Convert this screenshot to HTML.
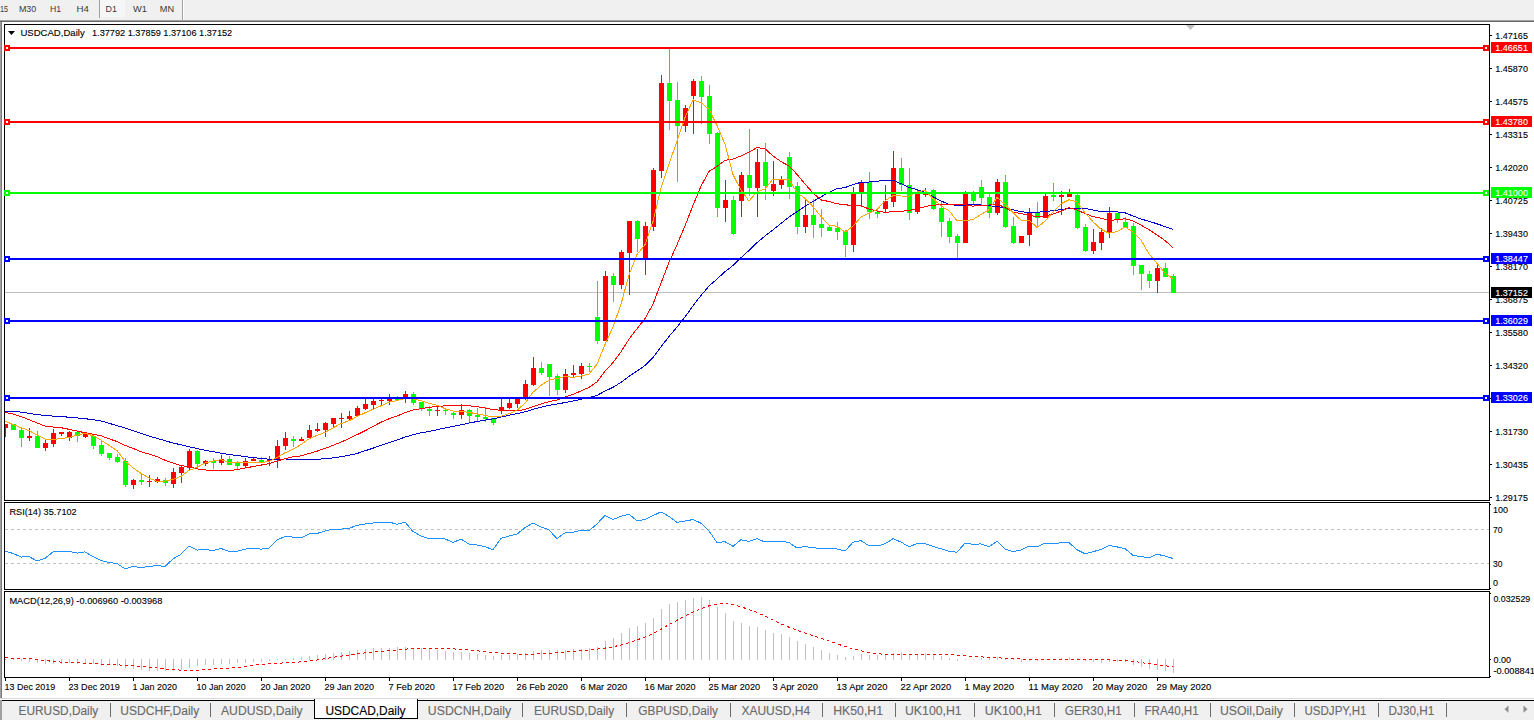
<!DOCTYPE html>
<html><head><meta charset="utf-8"><title>USDCAD,Daily</title>
<style>html,body{margin:0;padding:0;background:#fff;}body{width:1534px;height:720px;overflow:hidden;position:relative;font-family:"Liberation Sans", sans-serif;}</style>
</head><body>
<svg width="1534" height="720" viewBox="0 0 1534 720" style="position:absolute;left:0;top:0" font-family='"Liberation Sans", sans-serif'>
<rect x="0" y="0" width="1534" height="720" fill="#ffffff"/>
<rect x="0" y="0" width="1534" height="20" fill="#f0f0f0"/>
<rect x="0" y="20" width="1534" height="1" fill="#a0a0a0"/>
<rect x="0" y="21" width="1534" height="1" fill="#696969"/>
<rect x="99" y="0" width="1" height="18" fill="#a0a0a0"/>
<rect x="100" y="0" width="25" height="17" fill="#f6f6f6"/>
<rect x="182" y="0" width="1" height="20" fill="#a0a0a0"/>
<rect x="183" y="0" width="1" height="20" fill="#ffffff"/>
<text x="0" y="12" font-size="9.8" fill="#3a3a3a" textLength="8.1" lengthAdjust="spacingAndGlyphs">15</text>
<text x="18.9" y="12" font-size="9.8" fill="#3a3a3a" textLength="17.3" lengthAdjust="spacingAndGlyphs">M30</text>
<text x="49.9" y="12" font-size="9.8" fill="#3a3a3a" textLength="11.1" lengthAdjust="spacingAndGlyphs">H1</text>
<text x="76.6" y="12" font-size="9.8" fill="#3a3a3a" textLength="12.4" lengthAdjust="spacingAndGlyphs">H4</text>
<text x="105.6" y="12" font-size="9.8" fill="#3a3a3a" textLength="11.4" lengthAdjust="spacingAndGlyphs">D1</text>
<text x="133" y="12" font-size="9.8" fill="#3a3a3a" textLength="14" lengthAdjust="spacingAndGlyphs">W1</text>
<text x="159.8" y="12" font-size="9.8" fill="#3a3a3a" textLength="14.3" lengthAdjust="spacingAndGlyphs">MN</text>
<rect x="0" y="22" width="1" height="676" fill="#a0a0a0"/>
<rect x="1" y="22" width="1" height="676" fill="#7a7a7a"/>
<g shape-rendering="crispEdges">
<rect x="4.5" y="24.5" width="1485" height="476" fill="none" stroke="#000" stroke-width="1"/>
<rect x="4.5" y="502.5" width="1485" height="87" fill="none" stroke="#000" stroke-width="1"/>
<rect x="4.5" y="591.5" width="1485" height="86" fill="none" stroke="#000" stroke-width="1"/>
<defs><clipPath id="cm"><rect x="5" y="25" width="1484" height="475"/></clipPath><clipPath id="cr"><rect x="5" y="503" width="1484" height="86"/></clipPath><clipPath id="cd"><rect x="5" y="592" width="1484" height="85"/></clipPath></defs>
<g clip-path="url(#cm)">
<rect x="5" y="292" width="1484" height="1" fill="#c0c0c0"/>
<rect x="5" y="424" width="1" height="13" fill="#ff0000"/>
<rect x="3" y="424" width="5" height="4" fill="#ff0000"/>
<rect x="13" y="424" width="1" height="6" fill="#00ff00"/>
<rect x="11" y="424" width="5" height="6" fill="#00ff00"/>
<rect x="21" y="428" width="1" height="19" fill="#00ff00"/>
<rect x="19" y="430" width="5" height="8" fill="#00ff00"/>
<rect x="29" y="428" width="1" height="13" fill="#ff0000"/>
<rect x="27" y="436" width="5" height="2" fill="#ff0000"/>
<rect x="37" y="431" width="1" height="17" fill="#00ff00"/>
<rect x="35" y="436" width="5" height="12" fill="#00ff00"/>
<rect x="45" y="440" width="1" height="11" fill="#ff0000"/>
<rect x="43" y="443" width="5" height="5" fill="#ff0000"/>
<rect x="53" y="429" width="1" height="18" fill="#ff0000"/>
<rect x="51" y="433" width="5" height="11" fill="#ff0000"/>
<rect x="61" y="432" width="1" height="4" fill="#ff0000"/>
<rect x="59" y="432" width="5" height="2" fill="#ff0000"/>
<rect x="69" y="431" width="1" height="10" fill="#ff0000"/>
<rect x="67" y="432" width="5" height="6" fill="#ff0000"/>
<rect x="77" y="431" width="1" height="11" fill="#00ff00"/>
<rect x="75" y="432" width="5" height="4" fill="#00ff00"/>
<rect x="85" y="432" width="1" height="6" fill="#ff0000"/>
<rect x="83" y="433" width="5" height="4" fill="#ff0000"/>
<rect x="93" y="435" width="1" height="14" fill="#00ff00"/>
<rect x="91" y="436" width="5" height="10" fill="#00ff00"/>
<rect x="101" y="441" width="1" height="15" fill="#00ff00"/>
<rect x="99" y="445" width="5" height="9" fill="#00ff00"/>
<rect x="109" y="453" width="1" height="7" fill="#00ff00"/>
<rect x="107" y="453" width="5" height="5" fill="#00ff00"/>
<rect x="117" y="454" width="1" height="9" fill="#00ff00"/>
<rect x="115" y="457" width="5" height="5" fill="#00ff00"/>
<rect x="125" y="458" width="1" height="29" fill="#00ff00"/>
<rect x="123" y="461" width="5" height="24" fill="#00ff00"/>
<rect x="133" y="479" width="1" height="10" fill="#ff0000"/>
<rect x="131" y="480" width="5" height="5" fill="#ff0000"/>
<rect x="141" y="474" width="1" height="11" fill="#00ff00"/>
<rect x="139" y="480" width="5" height="2" fill="#00ff00"/>
<rect x="149" y="475" width="1" height="12" fill="#ff0000"/>
<rect x="147" y="481" width="5" height="1" fill="#ff0000"/>
<rect x="157" y="477" width="1" height="6" fill="#ff0000"/>
<rect x="155" y="479" width="5" height="3" fill="#ff0000"/>
<rect x="165" y="478" width="1" height="8" fill="#00ff00"/>
<rect x="163" y="480" width="5" height="3" fill="#00ff00"/>
<rect x="173" y="468" width="1" height="20" fill="#ff0000"/>
<rect x="171" y="472" width="5" height="12" fill="#ff0000"/>
<rect x="181" y="465" width="1" height="18" fill="#ff0000"/>
<rect x="179" y="467" width="5" height="6" fill="#ff0000"/>
<rect x="189" y="449" width="1" height="21" fill="#ff0000"/>
<rect x="187" y="451" width="5" height="17" fill="#ff0000"/>
<rect x="197" y="450" width="1" height="17" fill="#00ff00"/>
<rect x="195" y="451" width="5" height="13" fill="#00ff00"/>
<rect x="205" y="460" width="1" height="6" fill="#ff0000"/>
<rect x="203" y="461" width="5" height="3" fill="#ff0000"/>
<rect x="213" y="458" width="1" height="11" fill="#00ff00"/>
<rect x="211" y="461" width="5" height="2" fill="#00ff00"/>
<rect x="221" y="455" width="1" height="10" fill="#ff0000"/>
<rect x="219" y="459" width="5" height="4" fill="#ff0000"/>
<rect x="229" y="456" width="1" height="9" fill="#00ff00"/>
<rect x="227" y="459" width="5" height="6" fill="#00ff00"/>
<rect x="237" y="461" width="1" height="8" fill="#00ff00"/>
<rect x="235" y="463" width="5" height="3" fill="#00ff00"/>
<rect x="245" y="458" width="1" height="10" fill="#ff0000"/>
<rect x="243" y="461" width="5" height="5" fill="#ff0000"/>
<rect x="253" y="458" width="1" height="3" fill="#ff0000"/>
<rect x="251" y="459" width="5" height="2" fill="#ff0000"/>
<rect x="261" y="457" width="1" height="5" fill="#00ff00"/>
<rect x="259" y="460" width="5" height="2" fill="#00ff00"/>
<rect x="269" y="456" width="1" height="10" fill="#ff0000"/>
<rect x="267" y="459" width="5" height="2" fill="#ff0000"/>
<rect x="277" y="440" width="1" height="28" fill="#ff0000"/>
<rect x="275" y="446" width="5" height="14" fill="#ff0000"/>
<rect x="285" y="432" width="1" height="18" fill="#ff0000"/>
<rect x="283" y="438" width="5" height="8" fill="#ff0000"/>
<rect x="293" y="436" width="1" height="11" fill="#00ff00"/>
<rect x="291" y="439" width="5" height="2" fill="#00ff00"/>
<rect x="301" y="437" width="1" height="4" fill="#ff0000"/>
<rect x="299" y="439" width="5" height="2" fill="#ff0000"/>
<rect x="309" y="425" width="1" height="13" fill="#ff0000"/>
<rect x="307" y="430" width="5" height="8" fill="#ff0000"/>
<rect x="317" y="423" width="1" height="9" fill="#ff0000"/>
<rect x="315" y="429" width="5" height="2" fill="#ff0000"/>
<rect x="325" y="422" width="1" height="15" fill="#ff0000"/>
<rect x="323" y="423" width="5" height="7" fill="#ff0000"/>
<rect x="333" y="418" width="1" height="10" fill="#ff0000"/>
<rect x="331" y="418" width="5" height="6" fill="#ff0000"/>
<rect x="341" y="413" width="1" height="15" fill="#ff0000"/>
<rect x="339" y="418" width="5" height="1" fill="#ff0000"/>
<rect x="349" y="411" width="1" height="10" fill="#ff0000"/>
<rect x="347" y="416" width="5" height="3" fill="#ff0000"/>
<rect x="357" y="406" width="1" height="11" fill="#ff0000"/>
<rect x="355" y="408" width="5" height="8" fill="#ff0000"/>
<rect x="365" y="399" width="1" height="11" fill="#ff0000"/>
<rect x="363" y="404" width="5" height="5" fill="#ff0000"/>
<rect x="373" y="399" width="1" height="10" fill="#ff0000"/>
<rect x="371" y="401" width="5" height="4" fill="#ff0000"/>
<rect x="381" y="398" width="1" height="8" fill="#ff0000"/>
<rect x="379" y="400" width="5" height="1" fill="#ff0000"/>
<rect x="389" y="394" width="1" height="11" fill="#ff0000"/>
<rect x="387" y="398" width="5" height="3" fill="#ff0000"/>
<rect x="397" y="396" width="1" height="4" fill="#00ff00"/>
<rect x="395" y="398" width="5" height="2" fill="#00ff00"/>
<rect x="405" y="391" width="1" height="12" fill="#ff0000"/>
<rect x="403" y="394" width="5" height="3" fill="#ff0000"/>
<rect x="413" y="392" width="1" height="13" fill="#00ff00"/>
<rect x="411" y="394" width="5" height="9" fill="#00ff00"/>
<rect x="421" y="402" width="1" height="9" fill="#00ff00"/>
<rect x="419" y="402" width="5" height="6" fill="#00ff00"/>
<rect x="429" y="406" width="1" height="10" fill="#00ff00"/>
<rect x="427" y="409" width="5" height="2" fill="#00ff00"/>
<rect x="437" y="406" width="1" height="10" fill="#ff0000"/>
<rect x="435" y="410" width="5" height="1" fill="#ff0000"/>
<rect x="445" y="409" width="1" height="6" fill="#00ff00"/>
<rect x="443" y="410" width="5" height="1" fill="#00ff00"/>
<rect x="453" y="412" width="1" height="7" fill="#00ff00"/>
<rect x="451" y="413" width="5" height="2" fill="#00ff00"/>
<rect x="461" y="404" width="1" height="15" fill="#ff0000"/>
<rect x="459" y="410" width="5" height="5" fill="#ff0000"/>
<rect x="469" y="409" width="1" height="13" fill="#00ff00"/>
<rect x="467" y="410" width="5" height="6" fill="#00ff00"/>
<rect x="477" y="408" width="1" height="13" fill="#00ff00"/>
<rect x="475" y="415" width="5" height="2" fill="#00ff00"/>
<rect x="485" y="407" width="1" height="15" fill="#00ff00"/>
<rect x="483" y="417" width="5" height="2" fill="#00ff00"/>
<rect x="493" y="418" width="1" height="7" fill="#00ff00"/>
<rect x="491" y="418" width="5" height="5" fill="#00ff00"/>
<rect x="501" y="398" width="1" height="16" fill="#ff0000"/>
<rect x="499" y="407" width="5" height="4" fill="#ff0000"/>
<rect x="509" y="397" width="1" height="12" fill="#ff0000"/>
<rect x="507" y="403" width="5" height="5" fill="#ff0000"/>
<rect x="517" y="398" width="1" height="10" fill="#ff0000"/>
<rect x="515" y="399" width="5" height="5" fill="#ff0000"/>
<rect x="525" y="380" width="1" height="20" fill="#ff0000"/>
<rect x="523" y="384" width="5" height="13" fill="#ff0000"/>
<rect x="533" y="357" width="1" height="29" fill="#ff0000"/>
<rect x="531" y="368" width="5" height="17" fill="#ff0000"/>
<rect x="541" y="362" width="1" height="13" fill="#00ff00"/>
<rect x="539" y="368" width="5" height="5" fill="#00ff00"/>
<rect x="549" y="364" width="1" height="32" fill="#00ff00"/>
<rect x="547" y="364" width="5" height="13" fill="#00ff00"/>
<rect x="557" y="374" width="1" height="21" fill="#00ff00"/>
<rect x="555" y="376" width="5" height="14" fill="#00ff00"/>
<rect x="565" y="369" width="1" height="24" fill="#ff0000"/>
<rect x="563" y="374" width="5" height="16" fill="#ff0000"/>
<rect x="573" y="365" width="1" height="13" fill="#ff0000"/>
<rect x="571" y="373" width="5" height="2" fill="#ff0000"/>
<rect x="581" y="363" width="1" height="16" fill="#ff0000"/>
<rect x="579" y="366" width="5" height="8" fill="#ff0000"/>
<rect x="589" y="363" width="1" height="9" fill="#00ff00"/>
<rect x="587" y="366" width="5" height="1" fill="#00ff00"/>
<rect x="597" y="281" width="1" height="63" fill="#00ff00"/>
<rect x="595" y="317" width="5" height="24" fill="#00ff00"/>
<rect x="605" y="271" width="1" height="70" fill="#ff0000"/>
<rect x="603" y="276" width="5" height="65" fill="#ff0000"/>
<rect x="613" y="273" width="1" height="29" fill="#00ff00"/>
<rect x="611" y="276" width="5" height="9" fill="#00ff00"/>
<rect x="621" y="250" width="1" height="39" fill="#ff0000"/>
<rect x="619" y="252" width="5" height="33" fill="#ff0000"/>
<rect x="629" y="221" width="1" height="74" fill="#ff0000"/>
<rect x="627" y="221" width="5" height="32" fill="#ff0000"/>
<rect x="637" y="220" width="1" height="32" fill="#00ff00"/>
<rect x="635" y="221" width="5" height="18" fill="#00ff00"/>
<rect x="645" y="222" width="1" height="53" fill="#ff0000"/>
<rect x="643" y="226" width="5" height="32" fill="#ff0000"/>
<rect x="653" y="168" width="1" height="63" fill="#ff0000"/>
<rect x="651" y="170" width="5" height="57" fill="#ff0000"/>
<rect x="661" y="75" width="1" height="103" fill="#ff0000"/>
<rect x="659" y="83" width="5" height="88" fill="#ff0000"/>
<rect x="669" y="49" width="1" height="81" fill="#00ff00"/>
<rect x="667" y="83" width="5" height="18" fill="#00ff00"/>
<rect x="677" y="82" width="1" height="100" fill="#00ff00"/>
<rect x="675" y="100" width="5" height="26" fill="#00ff00"/>
<rect x="685" y="105" width="1" height="27" fill="#ff0000"/>
<rect x="683" y="108" width="5" height="18" fill="#ff0000"/>
<rect x="693" y="79" width="1" height="55" fill="#ff0000"/>
<rect x="691" y="81" width="5" height="15" fill="#ff0000"/>
<rect x="701" y="76" width="1" height="48" fill="#00ff00"/>
<rect x="699" y="81" width="5" height="16" fill="#00ff00"/>
<rect x="709" y="85" width="1" height="59" fill="#00ff00"/>
<rect x="707" y="96" width="5" height="38" fill="#00ff00"/>
<rect x="717" y="132" width="1" height="85" fill="#00ff00"/>
<rect x="715" y="133" width="5" height="75" fill="#00ff00"/>
<rect x="725" y="180" width="1" height="42" fill="#ff0000"/>
<rect x="723" y="200" width="5" height="8" fill="#ff0000"/>
<rect x="733" y="196" width="1" height="39" fill="#00ff00"/>
<rect x="731" y="200" width="5" height="34" fill="#00ff00"/>
<rect x="741" y="172" width="1" height="45" fill="#ff0000"/>
<rect x="739" y="175" width="5" height="26" fill="#ff0000"/>
<rect x="749" y="129" width="1" height="67" fill="#00ff00"/>
<rect x="747" y="175" width="5" height="13" fill="#00ff00"/>
<rect x="757" y="149" width="1" height="68" fill="#ff0000"/>
<rect x="755" y="162" width="5" height="26" fill="#ff0000"/>
<rect x="765" y="143" width="1" height="57" fill="#00ff00"/>
<rect x="763" y="162" width="5" height="24" fill="#00ff00"/>
<rect x="773" y="161" width="1" height="35" fill="#ff0000"/>
<rect x="771" y="184" width="5" height="7" fill="#ff0000"/>
<rect x="781" y="176" width="1" height="13" fill="#ff0000"/>
<rect x="779" y="179" width="5" height="6" fill="#ff0000"/>
<rect x="789" y="152" width="1" height="47" fill="#00ff00"/>
<rect x="787" y="157" width="5" height="30" fill="#00ff00"/>
<rect x="797" y="182" width="1" height="52" fill="#00ff00"/>
<rect x="795" y="186" width="5" height="41" fill="#00ff00"/>
<rect x="805" y="199" width="1" height="34" fill="#ff0000"/>
<rect x="803" y="215" width="5" height="12" fill="#ff0000"/>
<rect x="813" y="199" width="1" height="39" fill="#00ff00"/>
<rect x="811" y="215" width="5" height="10" fill="#00ff00"/>
<rect x="821" y="209" width="1" height="28" fill="#00ff00"/>
<rect x="819" y="224" width="5" height="4" fill="#00ff00"/>
<rect x="829" y="226" width="1" height="5" fill="#00ff00"/>
<rect x="827" y="227" width="5" height="4" fill="#00ff00"/>
<rect x="837" y="222" width="1" height="18" fill="#00ff00"/>
<rect x="835" y="228" width="5" height="4" fill="#00ff00"/>
<rect x="845" y="230" width="1" height="27" fill="#00ff00"/>
<rect x="843" y="231" width="5" height="14" fill="#00ff00"/>
<rect x="853" y="187" width="1" height="65" fill="#ff0000"/>
<rect x="851" y="194" width="5" height="51" fill="#ff0000"/>
<rect x="861" y="180" width="1" height="27" fill="#ff0000"/>
<rect x="859" y="183" width="5" height="9" fill="#ff0000"/>
<rect x="869" y="172" width="1" height="47" fill="#00ff00"/>
<rect x="867" y="182" width="5" height="30" fill="#00ff00"/>
<rect x="877" y="210" width="1" height="8" fill="#00ff00"/>
<rect x="875" y="212" width="5" height="2" fill="#00ff00"/>
<rect x="885" y="185" width="1" height="28" fill="#ff0000"/>
<rect x="883" y="201" width="5" height="8" fill="#ff0000"/>
<rect x="893" y="151" width="1" height="56" fill="#ff0000"/>
<rect x="891" y="168" width="5" height="34" fill="#ff0000"/>
<rect x="901" y="158" width="1" height="33" fill="#00ff00"/>
<rect x="899" y="168" width="5" height="17" fill="#00ff00"/>
<rect x="909" y="168" width="1" height="52" fill="#00ff00"/>
<rect x="907" y="185" width="5" height="28" fill="#00ff00"/>
<rect x="917" y="189" width="1" height="25" fill="#ff0000"/>
<rect x="915" y="193" width="5" height="19" fill="#ff0000"/>
<rect x="925" y="188" width="1" height="9" fill="#ff0000"/>
<rect x="923" y="193" width="5" height="2" fill="#ff0000"/>
<rect x="933" y="189" width="1" height="21" fill="#00ff00"/>
<rect x="931" y="190" width="5" height="19" fill="#00ff00"/>
<rect x="941" y="201" width="1" height="36" fill="#00ff00"/>
<rect x="939" y="208" width="5" height="14" fill="#00ff00"/>
<rect x="949" y="218" width="1" height="25" fill="#00ff00"/>
<rect x="947" y="221" width="5" height="16" fill="#00ff00"/>
<rect x="957" y="234" width="1" height="24" fill="#00ff00"/>
<rect x="955" y="236" width="5" height="7" fill="#00ff00"/>
<rect x="965" y="191" width="1" height="52" fill="#ff0000"/>
<rect x="963" y="194" width="5" height="49" fill="#ff0000"/>
<rect x="973" y="191" width="1" height="13" fill="#00ff00"/>
<rect x="971" y="193" width="5" height="8" fill="#00ff00"/>
<rect x="981" y="180" width="1" height="26" fill="#00ff00"/>
<rect x="979" y="187" width="5" height="11" fill="#00ff00"/>
<rect x="989" y="194" width="1" height="24" fill="#00ff00"/>
<rect x="987" y="197" width="5" height="16" fill="#00ff00"/>
<rect x="997" y="179" width="1" height="36" fill="#ff0000"/>
<rect x="995" y="182" width="5" height="31" fill="#ff0000"/>
<rect x="1005" y="175" width="1" height="53" fill="#00ff00"/>
<rect x="1003" y="182" width="5" height="45" fill="#00ff00"/>
<rect x="1013" y="217" width="1" height="27" fill="#00ff00"/>
<rect x="1011" y="226" width="5" height="17" fill="#00ff00"/>
<rect x="1021" y="236" width="1" height="7" fill="#ff0000"/>
<rect x="1019" y="236" width="5" height="7" fill="#ff0000"/>
<rect x="1029" y="208" width="1" height="38" fill="#ff0000"/>
<rect x="1027" y="213" width="5" height="22" fill="#ff0000"/>
<rect x="1037" y="202" width="1" height="25" fill="#00ff00"/>
<rect x="1035" y="213" width="5" height="5" fill="#00ff00"/>
<rect x="1045" y="194" width="1" height="24" fill="#ff0000"/>
<rect x="1043" y="196" width="5" height="22" fill="#ff0000"/>
<rect x="1053" y="183" width="1" height="18" fill="#00ff00"/>
<rect x="1051" y="195" width="5" height="2" fill="#00ff00"/>
<rect x="1061" y="191" width="1" height="24" fill="#ff0000"/>
<rect x="1059" y="195" width="5" height="2" fill="#ff0000"/>
<rect x="1069" y="189" width="1" height="8" fill="#ff0000"/>
<rect x="1067" y="193" width="5" height="4" fill="#ff0000"/>
<rect x="1077" y="193" width="1" height="36" fill="#00ff00"/>
<rect x="1075" y="195" width="5" height="33" fill="#00ff00"/>
<rect x="1085" y="224" width="1" height="28" fill="#00ff00"/>
<rect x="1083" y="227" width="5" height="24" fill="#00ff00"/>
<rect x="1093" y="229" width="1" height="25" fill="#ff0000"/>
<rect x="1091" y="242" width="5" height="9" fill="#ff0000"/>
<rect x="1101" y="228" width="1" height="22" fill="#ff0000"/>
<rect x="1099" y="232" width="5" height="11" fill="#ff0000"/>
<rect x="1109" y="207" width="1" height="31" fill="#ff0000"/>
<rect x="1107" y="213" width="5" height="20" fill="#ff0000"/>
<rect x="1117" y="213" width="1" height="10" fill="#00ff00"/>
<rect x="1115" y="213" width="5" height="7" fill="#00ff00"/>
<rect x="1125" y="217" width="1" height="11" fill="#00ff00"/>
<rect x="1123" y="222" width="5" height="6" fill="#00ff00"/>
<rect x="1133" y="223" width="1" height="52" fill="#00ff00"/>
<rect x="1131" y="226" width="5" height="40" fill="#00ff00"/>
<rect x="1141" y="265" width="1" height="25" fill="#00ff00"/>
<rect x="1139" y="265" width="5" height="9" fill="#00ff00"/>
<rect x="1149" y="271" width="1" height="17" fill="#00ff00"/>
<rect x="1147" y="274" width="5" height="7" fill="#00ff00"/>
<rect x="1157" y="263" width="1" height="30" fill="#ff0000"/>
<rect x="1155" y="268" width="5" height="13" fill="#ff0000"/>
<rect x="1165" y="263" width="1" height="14" fill="#00ff00"/>
<rect x="1163" y="268" width="5" height="9" fill="#00ff00"/>
<rect x="1173" y="274" width="1" height="19" fill="#00ff00"/>
<rect x="1171" y="276" width="5" height="17" fill="#00ff00"/>
<polyline points="5,411.4 13,411.4 21,412.1 29,413.3 37,414.6 45,415.5 53,416.1 61,416.6 69,417.2 77,417.9 85,418.7 93,419.7 101,420.9 109,423.3 117,425.6 125,428.0 133,430.7 141,433.3 149,436.0 157,438.4 165,440.7 173,443.0 181,444.8 189,446.7 197,448.5 205,450.2 213,451.7 221,453.2 229,454.6 237,455.4 245,456.7 253,457.6 261,458.4 269,459.2 277,459.1 285,459.0 293,459.2 301,459.5 309,459.4 317,459.2 325,458.8 333,457.9 341,456.7 349,455.3 357,453.5 365,450.8 373,448.2 381,445.4 389,442.7 397,440.0 405,437.1 413,434.8 421,432.8 429,431.5 437,429.7 445,428.0 453,426.4 461,424.8 469,423.1 477,421.5 485,420.1 493,418.9 501,417.1 509,415.2 517,413.6 525,411.8 533,409.4 541,407.2 549,405.4 557,404.1 565,402.5 573,401.0 581,399.3 589,397.6 597,395.4 605,391.1 613,387.3 621,382.3 629,376.4 637,371.1 645,365.5 653,357.7 661,346.9 669,336.5 677,327.1 685,317.0 693,305.8 701,295.4 709,286.0 717,279.0 725,271.7 733,265.4 741,257.7 749,250.5 757,242.6 765,236.0 773,229.9 781,223.4 789,217.1 797,211.7 805,206.4 813,201.4 821,196.8 829,192.3 837,188.7 845,187.6 853,184.6 861,182.3 869,182.0 877,181.2 885,180.3 893,180.3 901,183.7 909,187.4 917,189.6 925,192.5 933,196.7 941,200.9 949,204.3 957,205.5 965,205.3 973,204.2 981,205.0 989,205.8 997,206.5 1005,207.8 1013,209.8 1021,211.7 1029,212.6 1037,212.3 1045,211.6 1053,210.7 1061,209.6 1069,208.3 1077,208.2 1085,208.4 1093,210.0 1101,211.6 1109,211.7 1117,211.9 1125,212.8 1133,216.0 1141,219.0 1149,221.3 1157,223.8 1165,226.6 1173,229.4" fill="none" stroke="#0000cd" stroke-width="1"/>
<polyline points="5,412.2 13,414.1 21,416.5 29,419.7 37,422.9 45,426.1 53,427.0 61,427.7 69,429.3 77,431.1 85,432.7 93,434.2 101,435.7 109,438.8 117,441.5 125,445.4 133,448.4 141,451.7 149,454.1 157,456.6 165,460.2 173,463.1 181,465.6 189,466.6 197,468.9 205,469.9 213,470.6 221,470.6 229,470.9 237,469.5 245,468.1 253,466.5 261,465.1 269,463.7 277,461.1 285,458.6 293,456.8 301,455.9 309,453.5 317,451.2 325,448.4 333,445.4 341,442.1 349,438.5 357,434.7 365,430.8 373,426.4 381,422.2 389,418.8 397,416.1 405,412.7 413,410.1 421,408.6 429,407.3 437,406.4 445,405.9 453,405.6 461,405.2 469,405.8 477,406.7 485,408.0 493,409.6 501,410.3 509,410.5 517,410.9 525,409.5 533,406.6 541,403.9 549,401.6 557,400.1 565,397.1 573,394.5 581,390.9 589,387.4 597,381.8 605,371.3 613,362.6 621,351.8 629,339.1 637,328.7 645,318.6 653,304.1 661,283.1 669,262.4 677,244.7 685,225.8 693,205.4 701,186.1 709,171.4 717,166.5 725,160.4 733,159.1 741,155.9 749,152.2 757,147.6 765,148.8 773,156.0 781,161.6 789,165.9 797,174.4 805,184.0 813,193.1 821,199.9 829,201.5 837,203.8 845,204.6 853,205.9 861,205.6 869,209.1 877,211.1 885,212.4 893,211.6 901,211.4 909,210.4 917,208.9 925,206.6 933,205.2 941,204.6 949,204.9 957,204.8 965,204.8 973,206.1 981,205.1 989,205.0 997,203.6 1005,207.9 1013,212.0 1021,213.6 1029,215.1 1037,216.9 1045,215.9 1053,214.1 1061,211.1 1069,207.6 1077,210.0 1085,213.6 1093,216.7 1101,218.1 1109,220.3 1117,219.8 1125,218.7 1133,220.9 1141,225.2 1149,229.7 1157,234.9 1165,240.6 1173,247.6" fill="none" stroke="#ff0000" stroke-width="1"/>
<polyline points="5,421.0 13,424.6 21,427.6 29,430.6 37,435.2 45,439.0 53,439.6 61,438.4 69,437.6 77,435.2 85,433.2 93,435.8 101,440.2 109,445.4 117,450.6 125,461.0 133,467.8 141,473.4 149,478.0 157,481.4 165,481.0 173,479.4 181,476.4 189,470.4 197,467.4 205,463.0 213,461.2 221,459.6 229,462.4 237,462.8 245,462.8 253,462.0 261,462.6 269,461.4 277,457.4 285,452.8 293,449.2 301,444.6 309,438.8 317,435.4 325,432.4 333,427.8 341,423.6 349,420.8 357,416.6 365,412.8 373,409.4 381,405.8 389,402.2 397,400.6 405,398.6 413,399.0 421,400.6 429,403.2 437,405.2 445,408.6 453,411.0 461,411.4 469,412.4 477,413.8 485,415.4 493,417.0 501,416.4 509,413.8 517,410.2 525,403.2 533,392.2 541,385.4 549,380.2 557,378.4 565,376.4 573,377.4 581,376.0 589,374.0 597,364.2 605,344.6 613,327.0 621,304.2 629,275.0 637,254.6 645,244.6 653,221.6 661,187.8 669,163.8 677,141.2 685,117.6 693,99.8 701,102.6 709,109.2 717,125.6 725,144.0 733,174.6 741,190.2 749,201.0 757,191.8 765,189.0 773,179.0 781,179.8 789,179.6 797,192.6 805,198.4 813,206.6 821,216.4 829,225.2 837,226.2 845,232.2 853,226.0 861,217.0 869,213.2 877,209.6 885,200.8 893,195.6 901,196.0 909,196.2 917,192.0 925,190.4 933,198.6 941,206.0 949,210.8 957,220.8 965,221.0 973,219.4 981,214.6 989,209.8 997,197.6 1005,204.2 1013,212.6 1021,220.2 1029,220.2 1037,227.4 1045,221.2 1053,212.0 1061,203.8 1069,199.8 1077,201.8 1085,212.8 1093,221.8 1101,229.2 1109,233.2 1117,231.6 1125,227.0 1133,231.8 1141,240.2 1149,253.8 1157,263.4 1165,273.2 1173,278.6" fill="none" stroke="#ffa500" stroke-width="1"/>
<rect x="5" y="47" width="1484" height="2" fill="#ff0000"/>
<rect x="5" y="121" width="1484" height="2" fill="#ff0000"/>
<rect x="5" y="192" width="1484" height="2" fill="#00ff00"/>
<rect x="5" y="258" width="1484" height="2" fill="#0000ff"/>
<rect x="5" y="320" width="1484" height="2" fill="#0000ff"/>
<rect x="5" y="397" width="1484" height="2" fill="#0000ff"/>
</g>
<rect x="4" y="45" width="6" height="6" fill="#ff0000"/>
<rect x="6" y="47" width="2" height="2" fill="#ffffff"/>
<rect x="1483" y="45" width="6" height="6" fill="#ff0000"/>
<rect x="1485" y="47" width="2" height="2" fill="#ffffff"/>
<rect x="4" y="119" width="6" height="6" fill="#ff0000"/>
<rect x="6" y="121" width="2" height="2" fill="#ffffff"/>
<rect x="1483" y="119" width="6" height="6" fill="#ff0000"/>
<rect x="1485" y="121" width="2" height="2" fill="#ffffff"/>
<rect x="4" y="190" width="6" height="6" fill="#00ff00"/>
<rect x="6" y="192" width="2" height="2" fill="#ffffff"/>
<rect x="1483" y="190" width="6" height="6" fill="#00ff00"/>
<rect x="1485" y="192" width="2" height="2" fill="#ffffff"/>
<rect x="4" y="256" width="6" height="6" fill="#0000ff"/>
<rect x="6" y="258" width="2" height="2" fill="#ffffff"/>
<rect x="1483" y="256" width="6" height="6" fill="#0000ff"/>
<rect x="1485" y="258" width="2" height="2" fill="#ffffff"/>
<rect x="4" y="318" width="6" height="6" fill="#0000ff"/>
<rect x="6" y="320" width="2" height="2" fill="#ffffff"/>
<rect x="1483" y="318" width="6" height="6" fill="#0000ff"/>
<rect x="1485" y="320" width="2" height="2" fill="#ffffff"/>
<rect x="4" y="395" width="6" height="6" fill="#0000ff"/>
<rect x="6" y="397" width="2" height="2" fill="#ffffff"/>
<rect x="1483" y="395" width="6" height="6" fill="#0000ff"/>
<rect x="1485" y="397" width="2" height="2" fill="#ffffff"/>
</g>
<path d="M8,31 L15,31 L11.5,35 Z" fill="#000"/>
<text x="20.4" y="36" font-size="9.6" fill="#000" textLength="64.3" lengthAdjust="spacingAndGlyphs" stroke="#000" stroke-width="0.12">USDCAD,Daily</text>
<text x="92" y="36" font-size="9.6" fill="#000" textLength="140.2" lengthAdjust="spacingAndGlyphs" stroke="#000" stroke-width="0.12">1.37792 1.37859 1.37106 1.37152</text>
<path d="M1186,25 L1195,25 L1190.5,30 Z" fill="#c0c0c0"/>
<g shape-rendering="crispEdges">
<rect x="1490" y="35" width="2" height="1" fill="#000"/>
<rect x="1490" y="68" width="2" height="1" fill="#000"/>
<rect x="1490" y="101" width="2" height="1" fill="#000"/>
<rect x="1490" y="134" width="2" height="1" fill="#000"/>
<rect x="1490" y="167" width="2" height="1" fill="#000"/>
<rect x="1490" y="200" width="2" height="1" fill="#000"/>
<rect x="1490" y="233" width="2" height="1" fill="#000"/>
<rect x="1490" y="266" width="2" height="1" fill="#000"/>
<rect x="1490" y="299" width="2" height="1" fill="#000"/>
<rect x="1490" y="332" width="2" height="1" fill="#000"/>
<rect x="1490" y="365" width="2" height="1" fill="#000"/>
<rect x="1490" y="398" width="2" height="1" fill="#000"/>
<rect x="1490" y="431" width="2" height="1" fill="#000"/>
<rect x="1490" y="464" width="2" height="1" fill="#000"/>
<rect x="1490" y="497" width="2" height="1" fill="#000"/>
</g>
<text x="1495.3" y="38.8" font-size="9.5" fill="#000" textLength="32.6" lengthAdjust="spacingAndGlyphs" stroke="#000" stroke-width="0.12">1.47165</text>
<text x="1495.3" y="71.8" font-size="9.5" fill="#000" textLength="32.6" lengthAdjust="spacingAndGlyphs" stroke="#000" stroke-width="0.12">1.45870</text>
<text x="1495.3" y="104.8" font-size="9.5" fill="#000" textLength="32.6" lengthAdjust="spacingAndGlyphs" stroke="#000" stroke-width="0.12">1.44575</text>
<text x="1495.3" y="137.8" font-size="9.5" fill="#000" textLength="32.6" lengthAdjust="spacingAndGlyphs" stroke="#000" stroke-width="0.12">1.43315</text>
<text x="1495.3" y="170.8" font-size="9.5" fill="#000" textLength="32.6" lengthAdjust="spacingAndGlyphs" stroke="#000" stroke-width="0.12">1.42020</text>
<text x="1495.3" y="203.8" font-size="9.5" fill="#000" textLength="32.6" lengthAdjust="spacingAndGlyphs" stroke="#000" stroke-width="0.12">1.40725</text>
<text x="1495.3" y="236.8" font-size="9.5" fill="#000" textLength="32.6" lengthAdjust="spacingAndGlyphs" stroke="#000" stroke-width="0.12">1.39430</text>
<text x="1495.3" y="269.8" font-size="9.5" fill="#000" textLength="32.6" lengthAdjust="spacingAndGlyphs" stroke="#000" stroke-width="0.12">1.38170</text>
<text x="1495.3" y="302.8" font-size="9.5" fill="#000" textLength="32.6" lengthAdjust="spacingAndGlyphs" stroke="#000" stroke-width="0.12">1.36875</text>
<text x="1495.3" y="335.8" font-size="9.5" fill="#000" textLength="32.6" lengthAdjust="spacingAndGlyphs" stroke="#000" stroke-width="0.12">1.35580</text>
<text x="1495.3" y="368.8" font-size="9.5" fill="#000" textLength="32.6" lengthAdjust="spacingAndGlyphs" stroke="#000" stroke-width="0.12">1.34320</text>
<text x="1495.3" y="401.8" font-size="9.5" fill="#000" textLength="32.6" lengthAdjust="spacingAndGlyphs" stroke="#000" stroke-width="0.12">1.33025</text>
<text x="1495.3" y="434.8" font-size="9.5" fill="#000" textLength="32.6" lengthAdjust="spacingAndGlyphs" stroke="#000" stroke-width="0.12">1.31730</text>
<text x="1495.3" y="467.8" font-size="9.5" fill="#000" textLength="32.6" lengthAdjust="spacingAndGlyphs" stroke="#000" stroke-width="0.12">1.30435</text>
<text x="1495.3" y="500.8" font-size="9.5" fill="#000" textLength="32.6" lengthAdjust="spacingAndGlyphs" stroke="#000" stroke-width="0.12">1.29175</text>
<rect x="1491" y="42" width="41" height="11" fill="#ff0000" shape-rendering="crispEdges"/>
<text x="1495.3" y="51" font-size="9.5" fill="#fff" textLength="32.6" lengthAdjust="spacingAndGlyphs" stroke="#fff" stroke-width="0.12">1.46651</text>
<rect x="1491" y="116" width="41" height="11" fill="#ff0000" shape-rendering="crispEdges"/>
<text x="1495.3" y="125" font-size="9.5" fill="#fff" textLength="32.6" lengthAdjust="spacingAndGlyphs" stroke="#fff" stroke-width="0.12">1.43780</text>
<rect x="1491" y="187" width="41" height="11" fill="#00ff00" shape-rendering="crispEdges"/>
<text x="1495.3" y="196" font-size="9.5" fill="#fff" textLength="32.6" lengthAdjust="spacingAndGlyphs" stroke="#fff" stroke-width="0.12">1.41000</text>
<rect x="1491" y="253" width="41" height="11" fill="#0000ff" shape-rendering="crispEdges"/>
<text x="1495.3" y="262" font-size="9.5" fill="#fff" textLength="32.6" lengthAdjust="spacingAndGlyphs" stroke="#fff" stroke-width="0.12">1.38447</text>
<rect x="1491" y="287" width="41" height="11" fill="#000000" shape-rendering="crispEdges"/>
<text x="1495.3" y="296" font-size="9.5" fill="#fff" textLength="32.6" lengthAdjust="spacingAndGlyphs" stroke="#fff" stroke-width="0.12">1.37152</text>
<rect x="1491" y="315" width="41" height="11" fill="#0000ff" shape-rendering="crispEdges"/>
<text x="1495.3" y="324" font-size="9.5" fill="#fff" textLength="32.6" lengthAdjust="spacingAndGlyphs" stroke="#fff" stroke-width="0.12">1.36029</text>
<rect x="1491" y="392" width="41" height="11" fill="#0000ff" shape-rendering="crispEdges"/>
<text x="1495.3" y="401" font-size="9.5" fill="#fff" textLength="32.6" lengthAdjust="spacingAndGlyphs" stroke="#fff" stroke-width="0.12">1.33026</text>
<g shape-rendering="crispEdges">
<line x1="5" y1="529.5" x2="1489" y2="529.5" stroke="#c0c0c0" stroke-width="1" stroke-dasharray="3,3"/>
<line x1="5" y1="563.5" x2="1489" y2="563.5" stroke="#c0c0c0" stroke-width="1" stroke-dasharray="3,3"/>
<rect x="1490" y="504" width="1" height="1" fill="#000"/>
<rect x="1490" y="588" width="1" height="1" fill="#000"/>
</g>
<polyline points="5,551.3 13,553.4 21,557.1 29,556.6 37,560.9 45,558.3 53,551.9 61,551.3 69,551.3 77,553.1 85,551.9 93,556.7 101,560.4 109,562.4 117,563.5 125,568.9 133,566.5 141,567.5 149,566.5 157,565.6 165,566.5 173,558.9 181,554.3 189,545.9 197,550.1 205,549.4 213,550.5 221,548.5 229,551.3 237,551.3 245,549.2 253,548.1 261,549.1 269,548.2 277,540.0 285,536.5 293,537.1 301,538.0 309,534.0 317,533.5 325,531.0 333,529.1 341,529.1 349,528.3 357,525.3 365,524.0 373,523.0 381,522.7 389,522.0 397,524.3 405,522.1 413,531.5 421,536.0 429,538.6 437,538.0 445,538.9 453,542.5 461,539.0 469,544.1 477,545.0 485,546.6 493,549.8 501,538.3 509,536.1 517,534.1 525,527.7 533,522.9 541,526.9 549,529.9 557,538.7 565,532.8 573,532.4 581,530.2 589,530.9 597,523.9 605,515.3 613,519.5 621,516.3 629,514.1 637,520.8 645,519.6 653,515.6 661,511.9 669,516.4 677,522.3 685,521.1 693,519.5 701,523.2 709,530.9 717,542.6 725,541.7 733,546.3 741,539.7 749,541.4 757,538.7 765,542.0 773,541.8 781,541.2 789,542.4 797,548.1 805,546.4 813,547.8 821,548.3 829,548.7 837,548.9 845,551.1 853,542.2 861,540.6 869,545.7 877,546.0 885,543.8 893,538.7 901,542.0 909,546.8 917,543.6 925,543.6 933,546.5 941,548.8 949,551.3 957,552.3 965,543.1 973,544.4 981,543.9 989,546.8 997,541.3 1005,549.2 1013,551.5 1021,550.2 1029,546.1 1037,547.0 1045,543.1 1053,543.3 1061,542.9 1069,542.6 1077,549.8 1085,553.7 1093,551.7 1101,549.5 1109,545.5 1117,546.9 1125,548.6 1133,555.4 1141,556.6 1149,557.7 1157,554.3 1165,555.9 1173,558.5" fill="none" stroke="#1e90ff" stroke-width="1" shape-rendering="crispEdges"/>
<text x="9.4" y="515" font-size="9.6" fill="#000" textLength="67.3" lengthAdjust="spacingAndGlyphs" stroke="#000" stroke-width="0.12">RSI(14) 35.7102</text>
<text x="1493" y="513.2" font-size="9.5" fill="#000" textLength="15" lengthAdjust="spacingAndGlyphs" stroke="#000" stroke-width="0.12">100</text>
<text x="1493" y="533.2" font-size="9.5" fill="#000" textLength="9.5" lengthAdjust="spacingAndGlyphs" stroke="#000" stroke-width="0.12">70</text>
<text x="1493" y="566.8" font-size="9.5" fill="#000" textLength="9.5" lengthAdjust="spacingAndGlyphs" stroke="#000" stroke-width="0.12">30</text>
<text x="1493" y="586.0" font-size="9.5" fill="#000" textLength="5" lengthAdjust="spacingAndGlyphs" stroke="#000" stroke-width="0.12">0</text>
<g shape-rendering="crispEdges">
<rect x="5" y="659" width="1" height="1" fill="#c0c0c0"/>
<rect x="13" y="659" width="1" height="1" fill="#c0c0c0"/>
<rect x="21" y="659" width="1" height="2" fill="#c0c0c0"/>
<rect x="29" y="659" width="1" height="3" fill="#c0c0c0"/>
<rect x="37" y="659" width="1" height="4" fill="#c0c0c0"/>
<rect x="45" y="659" width="1" height="5" fill="#c0c0c0"/>
<rect x="53" y="659" width="1" height="5" fill="#c0c0c0"/>
<rect x="61" y="659" width="1" height="5" fill="#c0c0c0"/>
<rect x="69" y="659" width="1" height="4" fill="#c0c0c0"/>
<rect x="77" y="659" width="1" height="5" fill="#c0c0c0"/>
<rect x="85" y="659" width="1" height="5" fill="#c0c0c0"/>
<rect x="93" y="659" width="1" height="5" fill="#c0c0c0"/>
<rect x="101" y="659" width="1" height="6" fill="#c0c0c0"/>
<rect x="109" y="659" width="1" height="6" fill="#c0c0c0"/>
<rect x="117" y="659" width="1" height="7" fill="#c0c0c0"/>
<rect x="125" y="659" width="1" height="9" fill="#c0c0c0"/>
<rect x="133" y="659" width="1" height="10" fill="#c0c0c0"/>
<rect x="141" y="659" width="1" height="11" fill="#c0c0c0"/>
<rect x="149" y="659" width="1" height="12" fill="#c0c0c0"/>
<rect x="157" y="659" width="1" height="12" fill="#c0c0c0"/>
<rect x="165" y="659" width="1" height="12" fill="#c0c0c0"/>
<rect x="173" y="659" width="1" height="12" fill="#c0c0c0"/>
<rect x="181" y="659" width="1" height="11" fill="#c0c0c0"/>
<rect x="189" y="659" width="1" height="9" fill="#c0c0c0"/>
<rect x="197" y="659" width="1" height="7" fill="#c0c0c0"/>
<rect x="205" y="659" width="1" height="6" fill="#c0c0c0"/>
<rect x="213" y="659" width="1" height="6" fill="#c0c0c0"/>
<rect x="221" y="659" width="1" height="5" fill="#c0c0c0"/>
<rect x="229" y="659" width="1" height="5" fill="#c0c0c0"/>
<rect x="237" y="659" width="1" height="4" fill="#c0c0c0"/>
<rect x="245" y="659" width="1" height="4" fill="#c0c0c0"/>
<rect x="253" y="659" width="1" height="3" fill="#c0c0c0"/>
<rect x="261" y="659" width="1" height="3" fill="#c0c0c0"/>
<rect x="269" y="659" width="1" height="2" fill="#c0c0c0"/>
<rect x="277" y="659" width="1" height="1" fill="#c0c0c0"/>
<rect x="285" y="659" width="1" height="1" fill="#c0c0c0"/>
<rect x="293" y="658" width="1" height="2" fill="#c0c0c0"/>
<rect x="301" y="657" width="1" height="3" fill="#c0c0c0"/>
<rect x="309" y="656" width="1" height="4" fill="#c0c0c0"/>
<rect x="317" y="655" width="1" height="5" fill="#c0c0c0"/>
<rect x="325" y="654" width="1" height="6" fill="#c0c0c0"/>
<rect x="333" y="653" width="1" height="7" fill="#c0c0c0"/>
<rect x="341" y="652" width="1" height="8" fill="#c0c0c0"/>
<rect x="349" y="651" width="1" height="9" fill="#c0c0c0"/>
<rect x="357" y="650" width="1" height="10" fill="#c0c0c0"/>
<rect x="365" y="649" width="1" height="11" fill="#c0c0c0"/>
<rect x="373" y="648" width="1" height="12" fill="#c0c0c0"/>
<rect x="381" y="648" width="1" height="12" fill="#c0c0c0"/>
<rect x="389" y="648" width="1" height="12" fill="#c0c0c0"/>
<rect x="397" y="647" width="1" height="13" fill="#c0c0c0"/>
<rect x="405" y="647" width="1" height="13" fill="#c0c0c0"/>
<rect x="413" y="648" width="1" height="12" fill="#c0c0c0"/>
<rect x="421" y="648" width="1" height="12" fill="#c0c0c0"/>
<rect x="429" y="649" width="1" height="11" fill="#c0c0c0"/>
<rect x="437" y="650" width="1" height="10" fill="#c0c0c0"/>
<rect x="445" y="651" width="1" height="9" fill="#c0c0c0"/>
<rect x="453" y="652" width="1" height="8" fill="#c0c0c0"/>
<rect x="461" y="652" width="1" height="8" fill="#c0c0c0"/>
<rect x="469" y="653" width="1" height="7" fill="#c0c0c0"/>
<rect x="477" y="654" width="1" height="6" fill="#c0c0c0"/>
<rect x="485" y="655" width="1" height="5" fill="#c0c0c0"/>
<rect x="493" y="656" width="1" height="4" fill="#c0c0c0"/>
<rect x="501" y="655" width="1" height="5" fill="#c0c0c0"/>
<rect x="509" y="655" width="1" height="5" fill="#c0c0c0"/>
<rect x="517" y="654" width="1" height="6" fill="#c0c0c0"/>
<rect x="525" y="653" width="1" height="7" fill="#c0c0c0"/>
<rect x="533" y="651" width="1" height="9" fill="#c0c0c0"/>
<rect x="541" y="650" width="1" height="10" fill="#c0c0c0"/>
<rect x="549" y="650" width="1" height="10" fill="#c0c0c0"/>
<rect x="557" y="650" width="1" height="10" fill="#c0c0c0"/>
<rect x="565" y="650" width="1" height="10" fill="#c0c0c0"/>
<rect x="573" y="649" width="1" height="11" fill="#c0c0c0"/>
<rect x="581" y="649" width="1" height="11" fill="#c0c0c0"/>
<rect x="589" y="648" width="1" height="12" fill="#c0c0c0"/>
<rect x="597" y="647" width="1" height="13" fill="#c0c0c0"/>
<rect x="605" y="641" width="1" height="19" fill="#c0c0c0"/>
<rect x="613" y="638" width="1" height="22" fill="#c0c0c0"/>
<rect x="621" y="633" width="1" height="27" fill="#c0c0c0"/>
<rect x="629" y="628" width="1" height="32" fill="#c0c0c0"/>
<rect x="637" y="626" width="1" height="34" fill="#c0c0c0"/>
<rect x="645" y="623" width="1" height="37" fill="#c0c0c0"/>
<rect x="653" y="618" width="1" height="42" fill="#c0c0c0"/>
<rect x="661" y="609" width="1" height="51" fill="#c0c0c0"/>
<rect x="669" y="604" width="1" height="56" fill="#c0c0c0"/>
<rect x="677" y="602" width="1" height="58" fill="#c0c0c0"/>
<rect x="685" y="600" width="1" height="60" fill="#c0c0c0"/>
<rect x="693" y="598" width="1" height="62" fill="#c0c0c0"/>
<rect x="701" y="597" width="1" height="63" fill="#c0c0c0"/>
<rect x="709" y="600" width="1" height="60" fill="#c0c0c0"/>
<rect x="717" y="607" width="1" height="53" fill="#c0c0c0"/>
<rect x="725" y="613" width="1" height="47" fill="#c0c0c0"/>
<rect x="733" y="621" width="1" height="39" fill="#c0c0c0"/>
<rect x="741" y="623" width="1" height="37" fill="#c0c0c0"/>
<rect x="749" y="626" width="1" height="34" fill="#c0c0c0"/>
<rect x="757" y="627" width="1" height="33" fill="#c0c0c0"/>
<rect x="765" y="630" width="1" height="30" fill="#c0c0c0"/>
<rect x="773" y="633" width="1" height="27" fill="#c0c0c0"/>
<rect x="781" y="634" width="1" height="26" fill="#c0c0c0"/>
<rect x="789" y="637" width="1" height="23" fill="#c0c0c0"/>
<rect x="797" y="641" width="1" height="19" fill="#c0c0c0"/>
<rect x="805" y="644" width="1" height="16" fill="#c0c0c0"/>
<rect x="813" y="647" width="1" height="13" fill="#c0c0c0"/>
<rect x="821" y="650" width="1" height="10" fill="#c0c0c0"/>
<rect x="829" y="653" width="1" height="7" fill="#c0c0c0"/>
<rect x="837" y="655" width="1" height="5" fill="#c0c0c0"/>
<rect x="845" y="657" width="1" height="3" fill="#c0c0c0"/>
<rect x="853" y="656" width="1" height="4" fill="#c0c0c0"/>
<rect x="861" y="654" width="1" height="6" fill="#c0c0c0"/>
<rect x="869" y="655" width="1" height="5" fill="#c0c0c0"/>
<rect x="877" y="655" width="1" height="5" fill="#c0c0c0"/>
<rect x="885" y="655" width="1" height="5" fill="#c0c0c0"/>
<rect x="893" y="653" width="1" height="7" fill="#c0c0c0"/>
<rect x="901" y="652" width="1" height="8" fill="#c0c0c0"/>
<rect x="909" y="654" width="1" height="6" fill="#c0c0c0"/>
<rect x="917" y="654" width="1" height="6" fill="#c0c0c0"/>
<rect x="925" y="653" width="1" height="7" fill="#c0c0c0"/>
<rect x="933" y="654" width="1" height="6" fill="#c0c0c0"/>
<rect x="941" y="656" width="1" height="4" fill="#c0c0c0"/>
<rect x="949" y="658" width="1" height="2" fill="#c0c0c0"/>
<rect x="957" y="659" width="1" height="2" fill="#c0c0c0"/>
<rect x="965" y="659" width="1" height="1" fill="#c0c0c0"/>
<rect x="973" y="659" width="1" height="1" fill="#c0c0c0"/>
<rect x="981" y="658" width="1" height="2" fill="#c0c0c0"/>
<rect x="989" y="658" width="1" height="2" fill="#c0c0c0"/>
<rect x="997" y="657" width="1" height="3" fill="#c0c0c0"/>
<rect x="1005" y="658" width="1" height="2" fill="#c0c0c0"/>
<rect x="1013" y="659" width="1" height="1" fill="#c0c0c0"/>
<rect x="1021" y="659" width="1" height="3" fill="#c0c0c0"/>
<rect x="1029" y="659" width="1" height="2" fill="#c0c0c0"/>
<rect x="1037" y="659" width="1" height="2" fill="#c0c0c0"/>
<rect x="1045" y="659" width="1" height="1" fill="#c0c0c0"/>
<rect x="1053" y="659" width="1" height="1" fill="#c0c0c0"/>
<rect x="1061" y="658" width="1" height="2" fill="#c0c0c0"/>
<rect x="1069" y="657" width="1" height="3" fill="#c0c0c0"/>
<rect x="1077" y="658" width="1" height="2" fill="#c0c0c0"/>
<rect x="1085" y="659" width="1" height="2" fill="#c0c0c0"/>
<rect x="1093" y="659" width="1" height="3" fill="#c0c0c0"/>
<rect x="1101" y="659" width="1" height="4" fill="#c0c0c0"/>
<rect x="1109" y="659" width="1" height="3" fill="#c0c0c0"/>
<rect x="1117" y="659" width="1" height="3" fill="#c0c0c0"/>
<rect x="1125" y="659" width="1" height="3" fill="#c0c0c0"/>
<rect x="1133" y="659" width="1" height="6" fill="#c0c0c0"/>
<rect x="1141" y="659" width="1" height="8" fill="#c0c0c0"/>
<rect x="1149" y="659" width="1" height="10" fill="#c0c0c0"/>
<rect x="1157" y="659" width="1" height="11" fill="#c0c0c0"/>
<rect x="1165" y="659" width="1" height="12" fill="#c0c0c0"/>
<rect x="1173" y="659" width="1" height="14" fill="#c0c0c0"/>
<rect x="1490" y="593" width="1" height="1" fill="#000"/>
<rect x="1490" y="659" width="1" height="1" fill="#000"/>
<rect x="1490" y="676" width="1" height="1" fill="#000"/>
</g>
<polyline points="5,657.6 13,658.5 21,658.5 29,658.5 37,659.5 45,660.5 53,661.4 61,662.1 69,662.4 77,662.8 85,663.2 93,663.7 101,664.1 109,664.5 117,664.8 125,665.3 133,665.8 141,666.4 149,667.2 157,668.0 165,668.9 173,669.7 181,670.1 189,670.2 197,670.2 205,669.3 213,668.9 221,668.5 229,668.0 237,667.6 245,666.6 253,665.4 261,664.3 269,663.8 277,663.3 285,662.8 293,662.4 301,661.9 309,660.9 317,660.0 325,658.7 333,657.4 341,656.1 349,655.0 357,653.9 365,652.9 373,651.9 381,651.2 389,650.6 397,650.1 405,649.2 413,648.4 421,648.2 429,648.1 437,648.2 445,648.4 453,648.9 461,649.4 469,650.0 477,650.8 485,651.6 493,652.4 501,653.1 509,653.6 517,654.0 525,654.2 533,654.1 541,653.7 549,653.2 557,652.7 565,652.1 573,651.4 581,650.7 589,650.0 597,649.2 605,648.1 613,646.8 621,645.0 629,642.6 637,639.9 645,637.0 653,633.7 661,629.3 669,624.6 677,620.3 685,616.1 693,612.1 701,608.7 709,605.8 717,604.0 725,603.5 733,604.7 741,606.8 749,609.5 757,612.5 765,616.2 773,620.1 781,623.9 789,627.2 797,630.3 805,632.9 813,635.6 821,638.3 829,641.1 837,643.8 845,646.5 853,648.9 861,650.8 869,652.3 877,653.6 885,654.4 893,654.8 901,654.7 909,654.6 917,654.2 925,654.0 933,654.0 941,654.1 949,654.5 957,655.1 965,655.8 973,656.4 981,656.9 989,657.4 997,657.8 1005,658.2 1013,658.7 1021,659.0 1029,659.1 1037,659.3 1045,659.5 1053,659.5 1061,659.5 1069,659.5 1077,659.5 1085,659.6 1093,659.7 1101,659.8 1109,659.9 1117,660.2 1125,660.5 1133,661.3 1141,662.5 1149,663.7 1157,664.7 1165,665.7 1173,666.8" fill="none" stroke="#ff0000" stroke-width="1" stroke-dasharray="3,3" shape-rendering="crispEdges"/>
<text x="9.4" y="604" font-size="9.6" fill="#000" textLength="153" lengthAdjust="spacingAndGlyphs" stroke="#000" stroke-width="0.12">MACD(12,26,9) -0.006960 -0.003968</text>
<text x="1493.4" y="602" font-size="9.5" fill="#000" textLength="36.9" lengthAdjust="spacingAndGlyphs" stroke="#000" stroke-width="0.12">0.032529</text>
<text x="1493.4" y="663" font-size="9.5" fill="#000" textLength="17.5" lengthAdjust="spacingAndGlyphs" stroke="#000" stroke-width="0.12">0.00</text>
<text x="1493.4" y="674" font-size="9.5" fill="#000" textLength="41.5" lengthAdjust="spacingAndGlyphs" stroke="#000" stroke-width="0.12">-0.008841</text>
<g shape-rendering="crispEdges">
<rect x="5" y="678" width="1" height="3" fill="#000"/>
<rect x="69" y="678" width="1" height="3" fill="#000"/>
<rect x="133" y="678" width="1" height="3" fill="#000"/>
<rect x="197" y="678" width="1" height="3" fill="#000"/>
<rect x="261" y="678" width="1" height="3" fill="#000"/>
<rect x="325" y="678" width="1" height="3" fill="#000"/>
<rect x="389" y="678" width="1" height="3" fill="#000"/>
<rect x="453" y="678" width="1" height="3" fill="#000"/>
<rect x="517" y="678" width="1" height="3" fill="#000"/>
<rect x="581" y="678" width="1" height="3" fill="#000"/>
<rect x="645" y="678" width="1" height="3" fill="#000"/>
<rect x="709" y="678" width="1" height="3" fill="#000"/>
<rect x="773" y="678" width="1" height="3" fill="#000"/>
<rect x="837" y="678" width="1" height="3" fill="#000"/>
<rect x="901" y="678" width="1" height="3" fill="#000"/>
<rect x="965" y="678" width="1" height="3" fill="#000"/>
<rect x="1029" y="678" width="1" height="3" fill="#000"/>
<rect x="1093" y="678" width="1" height="3" fill="#000"/>
<rect x="1157" y="678" width="1" height="3" fill="#000"/>
</g>
<text x="4.6" y="690" font-size="9.8" fill="#000" textLength="50.6" lengthAdjust="spacingAndGlyphs" stroke="#000" stroke-width="0.12">13 Dec 2019</text>
<text x="68.6" y="690" font-size="9.8" fill="#000" textLength="51.1" lengthAdjust="spacingAndGlyphs" stroke="#000" stroke-width="0.12">23 Dec 2019</text>
<text x="132.6" y="690" font-size="9.8" fill="#000" textLength="44.3" lengthAdjust="spacingAndGlyphs" stroke="#000" stroke-width="0.12">1 Jan 2020</text>
<text x="196.6" y="690" font-size="9.8" fill="#000" textLength="49" lengthAdjust="spacingAndGlyphs" stroke="#000" stroke-width="0.12">10 Jan 2020</text>
<text x="260.6" y="690" font-size="9.8" fill="#000" textLength="49.8" lengthAdjust="spacingAndGlyphs" stroke="#000" stroke-width="0.12">20 Jan 2020</text>
<text x="324.6" y="690" font-size="9.8" fill="#000" textLength="49.4" lengthAdjust="spacingAndGlyphs" stroke="#000" stroke-width="0.12">29 Jan 2020</text>
<text x="388.6" y="690" font-size="9.8" fill="#000" textLength="46.3" lengthAdjust="spacingAndGlyphs" stroke="#000" stroke-width="0.12">7 Feb 2020</text>
<text x="452.6" y="690" font-size="9.8" fill="#000" textLength="51.6" lengthAdjust="spacingAndGlyphs" stroke="#000" stroke-width="0.12">17 Feb 2020</text>
<text x="516.6" y="690" font-size="9.8" fill="#000" textLength="51.2" lengthAdjust="spacingAndGlyphs" stroke="#000" stroke-width="0.12">26 Feb 2020</text>
<text x="580.6" y="690" font-size="9.8" fill="#000" textLength="46.6" lengthAdjust="spacingAndGlyphs" stroke="#000" stroke-width="0.12">6 Mar 2020</text>
<text x="644.6" y="690" font-size="9.8" fill="#000" textLength="51" lengthAdjust="spacingAndGlyphs" stroke="#000" stroke-width="0.12">16 Mar 2020</text>
<text x="708.6" y="690" font-size="9.8" fill="#000" textLength="51.5" lengthAdjust="spacingAndGlyphs" stroke="#000" stroke-width="0.12">25 Mar 2020</text>
<text x="772.6" y="690" font-size="9.8" fill="#000" textLength="45.3" lengthAdjust="spacingAndGlyphs" stroke="#000" stroke-width="0.12">3 Apr 2020</text>
<text x="836.6" y="690" font-size="9.8" fill="#000" textLength="50.8" lengthAdjust="spacingAndGlyphs" stroke="#000" stroke-width="0.12">13 Apr 2020</text>
<text x="900.6" y="690" font-size="9.8" fill="#000" textLength="50.5" lengthAdjust="spacingAndGlyphs" stroke="#000" stroke-width="0.12">22 Apr 2020</text>
<text x="964.6" y="690" font-size="9.8" fill="#000" textLength="49.5" lengthAdjust="spacingAndGlyphs" stroke="#000" stroke-width="0.12">1 May 2020</text>
<text x="1028.6" y="690" font-size="9.8" fill="#000" textLength="54.3" lengthAdjust="spacingAndGlyphs" stroke="#000" stroke-width="0.12">11 May 2020</text>
<text x="1092.6" y="690" font-size="9.8" fill="#000" textLength="54.8" lengthAdjust="spacingAndGlyphs" stroke="#000" stroke-width="0.12">20 May 2020</text>
<text x="1156.6" y="690" font-size="9.8" fill="#000" textLength="54.6" lengthAdjust="spacingAndGlyphs" stroke="#000" stroke-width="0.12">29 May 2020</text>
<rect x="0" y="698" width="1534" height="1" fill="#d8d8d8"/>
<rect x="0" y="699" width="1534" height="1" fill="#ffffff"/>
<rect x="0" y="700" width="1534" height="20" fill="#f0f0f0"/>
<rect x="0" y="700" width="1534" height="1" fill="#000"/>
<rect x="0" y="700" width="2" height="20" fill="#a0a0a0"/>
<g shape-rendering="crispEdges">
<rect x="110" y="703" width="1" height="14" fill="#6d6d6d"/>
<rect x="210" y="703" width="1" height="14" fill="#6d6d6d"/>
<rect x="522" y="703" width="1" height="14" fill="#6d6d6d"/>
<rect x="626" y="703" width="1" height="14" fill="#6d6d6d"/>
<rect x="730" y="703" width="1" height="14" fill="#6d6d6d"/>
<rect x="822" y="703" width="1" height="14" fill="#6d6d6d"/>
<rect x="895" y="703" width="1" height="14" fill="#6d6d6d"/>
<rect x="974" y="703" width="1" height="14" fill="#6d6d6d"/>
<rect x="1054" y="703" width="1" height="14" fill="#6d6d6d"/>
<rect x="1134" y="703" width="1" height="14" fill="#6d6d6d"/>
<rect x="1210" y="703" width="1" height="14" fill="#6d6d6d"/>
<rect x="1294" y="703" width="1" height="14" fill="#6d6d6d"/>
<rect x="1378" y="703" width="1" height="14" fill="#6d6d6d"/>
<rect x="1446" y="703" width="1" height="14" fill="#6d6d6d"/>
<rect x="314" y="700" width="104" height="19" fill="#ffffff"/>
<rect x="314.5" y="699.5" width="103" height="19" fill="none" stroke="#000"/>
<rect x="315" y="699" width="102" height="2" fill="#ffffff"/>
</g>
<text x="18.6" y="715" font-size="12" fill="#6a6a6a" textLength="79.7" lengthAdjust="spacingAndGlyphs" stroke="#6a6a6a" stroke-width="0.12">EURUSD,Daily</text>
<text x="120.3" y="715" font-size="12" fill="#6a6a6a" textLength="79.0" lengthAdjust="spacingAndGlyphs" stroke="#6a6a6a" stroke-width="0.12">USDCHF,Daily</text>
<text x="221" y="715" font-size="12" fill="#6a6a6a" textLength="81.7" lengthAdjust="spacingAndGlyphs" stroke="#6a6a6a" stroke-width="0.12">AUDUSD,Daily</text>
<text x="325.4" y="715" font-size="12" fill="#000" textLength="80.2" lengthAdjust="spacingAndGlyphs" stroke="#000" stroke-width="0.12">USDCAD,Daily</text>
<text x="427.8" y="715" font-size="12" fill="#6a6a6a" textLength="83.4" lengthAdjust="spacingAndGlyphs" stroke="#6a6a6a" stroke-width="0.12">USDCNH,Daily</text>
<text x="533.9" y="715" font-size="12" fill="#6a6a6a" textLength="80.3" lengthAdjust="spacingAndGlyphs" stroke="#6a6a6a" stroke-width="0.12">EURUSD,Daily</text>
<text x="638.3" y="715" font-size="12" fill="#6a6a6a" textLength="79.7" lengthAdjust="spacingAndGlyphs" stroke="#6a6a6a" stroke-width="0.12">GBPUSD,Daily</text>
<text x="741.4" y="715" font-size="12" fill="#6a6a6a" textLength="68.8" lengthAdjust="spacingAndGlyphs" stroke="#6a6a6a" stroke-width="0.12">XAUUSD,H4</text>
<text x="833.2" y="715" font-size="12" fill="#6a6a6a" textLength="49.8" lengthAdjust="spacingAndGlyphs" stroke="#6a6a6a" stroke-width="0.12">HK50,H1</text>
<text x="905" y="715" font-size="12" fill="#6a6a6a" textLength="56.7" lengthAdjust="spacingAndGlyphs" stroke="#6a6a6a" stroke-width="0.12">UK100,H1</text>
<text x="984.7" y="715" font-size="12" fill="#6a6a6a" textLength="57.3" lengthAdjust="spacingAndGlyphs" stroke="#6a6a6a" stroke-width="0.12">UK100,H1</text>
<text x="1064.8" y="715" font-size="12" fill="#6a6a6a" textLength="57.0" lengthAdjust="spacingAndGlyphs" stroke="#6a6a6a" stroke-width="0.12">GER30,H1</text>
<text x="1144.5" y="715" font-size="12" fill="#6a6a6a" textLength="54.2" lengthAdjust="spacingAndGlyphs" stroke="#6a6a6a" stroke-width="0.12">FRA40,H1</text>
<text x="1220" y="715" font-size="12" fill="#6a6a6a" textLength="62.8" lengthAdjust="spacingAndGlyphs" stroke="#6a6a6a" stroke-width="0.12">USOil,Daily</text>
<text x="1304.5" y="715" font-size="12" fill="#6a6a6a" textLength="62.0" lengthAdjust="spacingAndGlyphs" stroke="#6a6a6a" stroke-width="0.12">USDJPY,H1</text>
<text x="1388.6" y="715" font-size="12" fill="#6a6a6a" textLength="45.7" lengthAdjust="spacingAndGlyphs" stroke="#6a6a6a" stroke-width="0.12">DJ30,H1</text>
<path d="M1508.5,705.5 L1504.5,709.2 L1508.5,712.8 Z" fill="#8c8c8c"/>
<path d="M1523.5,705.5 L1527.5,709.2 L1523.5,712.8 Z" fill="#8c8c8c"/>
</svg>
</body></html>
